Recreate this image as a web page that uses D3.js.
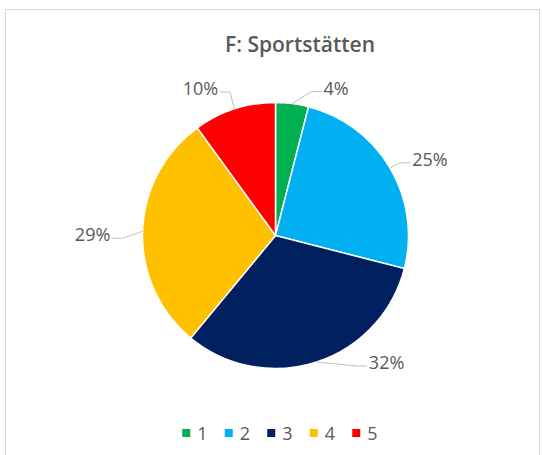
<!DOCTYPE html>
<html>
<head>
<meta charset="utf-8">
<script src="https://cdn.jsdelivr.net/npm/d3@7"></script>
<style>
  html, body { margin: 0; padding: 0; background: #fff; }
  svg { display: block; }
</style>
</head>
<body>
<div id="chart"></div>
<script>
// data
const title = 'F: Sportstätten'
const categories = ['1', '2', '3', '4', '5']
const shares = [4, 25, 32, 29, 10]
const colors = ['#00B050', '#00B0F0', '#002060', '#FFC000', '#FF0000']

// layout
const canvasWidth = 542
const canvasHeight = 455
const center = {x: 275.5, y: 235.5}
const radius = 133
// label center relative to the slice's outer edge point
const labelOffsets = [[44, -16], [40, -9], [70, 0], [-50, 3], [-34, -21]]
const textColor = '#595959'
const fontFamily = '"Open Sans", "Noto Sans", sans-serif'

const svg = d3
  .select('#chart')
  .append('svg')
  .attr('width', canvasWidth)
  .attr('height', canvasHeight)

// chart area border
svg
  .append('rect')
  .attr('x', 5.5)
  .attr('y', 9.5)
  .attr('width', 534)
  .attr('height', 470)
  .attr('fill', '#fff')
  .attr('stroke', '#d9d9d9')

svg
  .append('text')
  .attr('x', 300)
  .attr('y', 52)
  .attr('text-anchor', 'middle')
  .attr('font-family', fontFamily)
  .attr('font-weight', 600)
  .attr('font-size', 21)
  .attr('fill', textColor)
  .text(title)

const pie = d3.pie().sort(null).value(d => d)
const arcs = pie(shares)

const arc = d3.arc().innerRadius(0).outerRadius(radius)
const edgeArc = d3.arc().innerRadius(radius).outerRadius(radius)

const g = svg
  .append('g')
  .attr('transform', `translate(${center.x}, ${center.y})`)

g.selectAll('path.slice')
  .data(arcs)
  .enter()
  .append('path')
  .attr('class', 'slice')
  .attr('d', arc)
  .attr('fill', (d, i) => colors[i])
  .attr('stroke', '#fff')
  .attr('stroke-width', 1.5)

const total = d3.sum(shares)
const labelData = arcs.map((d, i) => {
  const [ex, ey] = edgeArc.centroid(d)
  const [dx, dy] = labelOffsets[i]
  return {edge: [ex, ey], pos: [ex + dx, ey + dy], text: Math.round((d.value / total) * 100) + '%'}
})

const labels = g
  .selectAll('text.label')
  .data(labelData)
  .enter()
  .append('text')
  .attr('class', 'label')
  .attr('x', d => d.pos[0])
  .attr('y', d => d.pos[1])
  .attr('text-anchor', 'middle')
  .attr('dominant-baseline', 'central')
  .attr('font-family', fontFamily)
  .attr('font-size', 18)
  .attr('fill', textColor)
  .text(d => d.text)

// leader lines from the label side to the slice edge
labels.each(function (d) {
  const w = this.getComputedTextLength()
  const right = d.pos[0] < d.edge[0]
  const sx = d.pos[0] + (right ? w / 2 + 2 : -w / 2 - 2)
  const sy = d.pos[1] + 4
  const ex = sx + (right ? 10 : -10)
  g.append('polyline')
    .attr('points', [[sx, sy], [ex, sy], d.edge].map(p => p.join(',')).join(' '))
    .attr('fill', 'none')
    .attr('stroke', '#bfbfbf')
    .attr('stroke-width', 1)
})

// legend
const itemWidth = 42.5
const legendCenter = 280
const legendY = 433
const legendStart = legendCenter - (categories.length * itemWidth - 17) / 2

const legend = svg
  .append('g')
  .selectAll('g.item')
  .data(categories)
  .enter()
  .append('g')
  .attr('transform', (d, i) => `translate(${legendStart + i * itemWidth}, ${legendY})`)

legend
  .append('rect')
  .attr('x', 0)
  .attr('y', -4)
  .attr('width', 8)
  .attr('height', 8)
  .attr('fill', (d, i) => colors[i])

legend
  .append('text')
  .attr('x', 15)
  .attr('y', 0)
  .attr('dominant-baseline', 'central')
  .attr('font-family', fontFamily)
  .attr('font-size', 18)
  .attr('fill', textColor)
  .text(d => d)
</script>
</body>
</html>
